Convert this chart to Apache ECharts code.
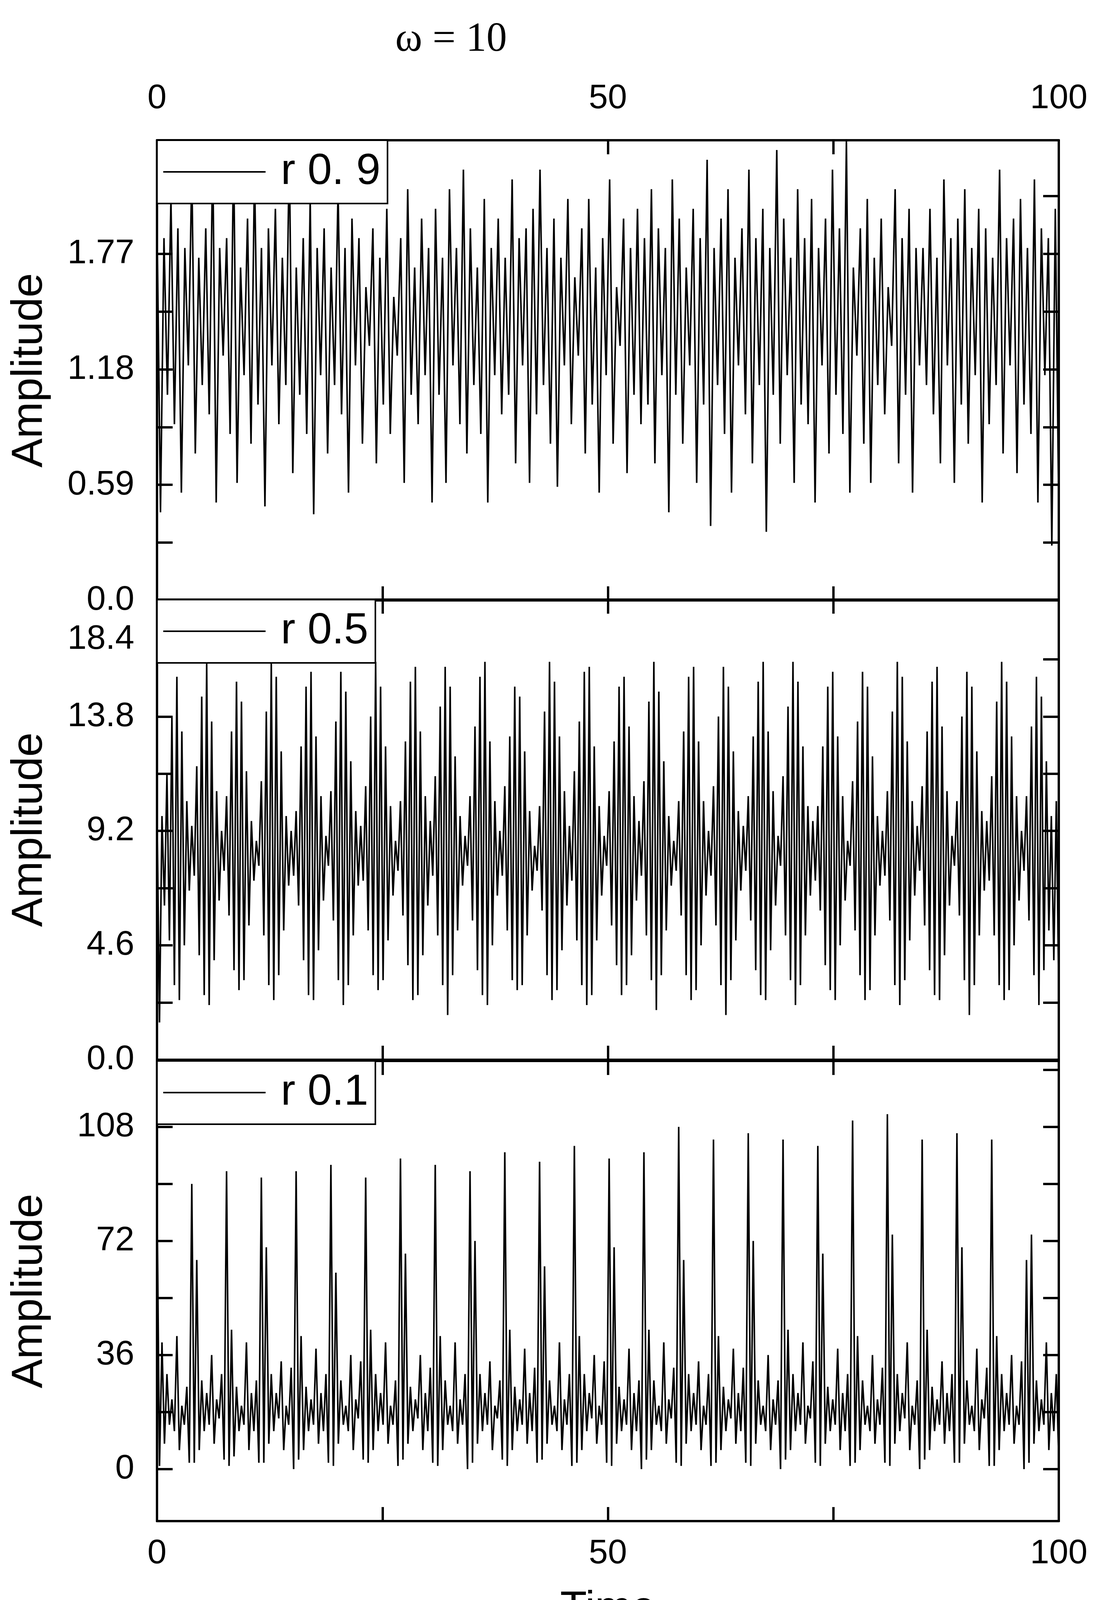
<!DOCTYPE html>
<html>
<head>
<meta charset="utf-8">
<script src="https://cdn.jsdelivr.net/npm/echarts@6/dist/echarts.min.js"></script>
<style>
  html, body { margin: 0; padding: 0; background: #fff; }
  #box { width: 2837px; height: 4386px; }
</style>
</head>
<body>
<div id="box"></div>
<script>
// amplitude values, alternating crests and troughs
var amp09 = [
  1.95,0.45,1.85,1.05,2.05,0.9,1.9,0.55,1.8,1.2,2.2,0.75,1.75,1.1,1.9,0.95,2.3,0.5,1.8,1.25,
  1.85,0.85,2.3,0.6,1.7,1.15,1.95,0.8,2.2,1.0,1.8,0.48,1.9,1.2,2.0,0.9,1.75,1.1,2.3,0.65,
  1.7,1.05,1.85,0.85,2.05,0.44,1.8,1.15,1.9,0.75,1.7,1.1,2.1,0.95,1.8,0.55,1.95,1.2,1.85,0.8,
  1.6,1.3,1.9,0.7,1.75,1.0,2.0,0.85,1.55,1.25,1.85,0.6,2.1,1.05,1.7,0.9,1.95,1.15,1.8,0.5,
  2.0,1.05,1.75,0.6,2.1,1.2,1.8,0.9,2.2,0.75,1.9,1.1,1.7,0.85,2.05,0.5,1.8,1.15,1.95,0.95,
  1.75,1.05,2.15,0.7,1.85,1.2,1.9,0.6,2.0,0.95,2.2,1.1,1.8,0.8,1.95,0.58,1.75,1.2,2.05,0.9,
  1.65,1.25,1.9,0.75,2.05,1.0,1.7,0.55,1.85,1.15,2.15,0.8,1.6,1.3,1.95,0.65,1.8,1.05,2.0,0.9,
  1.85,1.0,2.1,0.7,1.9,1.15,1.8,0.45,2.15,1.05,1.95,0.8,1.7,1.2,2.0,0.6,1.85,1.0,2.25,0.38,
  1.8,1.1,1.95,0.85,2.1,0.55,1.75,1.2,1.9,0.95,2.2,0.7,1.85,1.1,2.0,0.35,1.8,1.05,2.3,0.8,
  1.95,1.15,1.75,0.6,2.1,1.0,1.85,0.9,2.05,0.5,1.8,1.2,1.95,0.75,2.2,1.05,1.9,0.85,2.35,0.55,
  1.7,1.25,1.9,0.8,2.05,0.6,1.75,1.1,1.95,0.95,1.6,1.3,2.1,0.7,1.85,1.05,2.0,0.55,1.8,1.2,
  1.8,1.1,2.0,0.95,1.75,0.7,2.15,1.2,1.85,0.6,1.95,1.0,2.1,0.8,1.8,1.15,2.0,0.5,1.9,0.9,
  1.75,1.1,2.2,0.75,1.85,1.2,1.95,0.65,2.05,1.0,1.8,0.85,2.15,0.5,1.9,1.15,1.85,0.28,2.0,0.45
];

var amp05 = [
  10.2,1.5,9.8,6.2,11.5,4.8,13.8,3.0,15.4,2.4,13.2,4.6,10.4,6.8,
  9.4,7.4,11.8,4.2,14.6,2.6,16.0,2.2,13.6,4.0,10.8,6.4,9.2,7.6,
  10.6,5.8,13.2,3.6,15.2,2.8,14.4,3.2,11.6,5.4,9.6,7.2,8.8,7.8,
  11.2,5.0,14.0,3.0,16.0,2.4,15.4,3.4,12.4,5.2,9.8,7.0,9.2,7.4,
  10.0,6.2,12.6,4.0,15.0,2.6,15.6,2.4,13.0,4.4,10.6,6.4,9.0,7.8,
  10.8,5.6,13.6,3.2,15.6,2.2,14.8,3.0,12.0,5.0,10.0,7.0,9.4,7.2,
  11.0,5.2,13.8,3.4,16.0,2.8,15.0,3.2,12.6,4.8,10.2,6.6,8.8,7.6,
  10.4,5.8,12.8,3.8,15.2,2.4,15.8,2.6,13.2,4.2,10.6,6.2,9.6,7.4,
  11.4,5.0,14.2,3.0,15.8,1.8,15.0,3.4,12.2,5.2,9.8,7.0,9.0,7.8,
  10.6,5.6,13.4,3.6,15.4,2.6,16.0,2.2,12.8,4.6,10.4,6.6,9.2,7.4,
  11.0,5.2,13.0,3.2,15.0,2.8,14.6,3.0,12.4,5.0,10.0,6.8,8.6,7.6,
  10.2,6.0,14.0,3.4,16.0,2.4,15.2,2.8,13.0,4.4,10.8,6.2,9.4,7.2,
  11.6,4.8,13.6,3.0,15.6,2.2,15.8,2.6,12.6,4.8,10.2,6.6,9.0,7.8,
  10.8,5.4,12.8,3.8,15.0,2.6,15.4,3.0,13.4,4.2,10.6,6.4,9.6,7.4,
  11.2,5.0,14.4,3.2,16.0,2.0,14.8,3.4,12.0,5.2,9.8,7.0,8.8,7.6,
  10.4,5.8,13.2,3.4,15.4,2.4,15.8,2.8,12.8,4.6,10.4,6.6,9.2,7.4,
  11.0,5.4,13.8,3.0,15.8,1.8,15.0,3.2,12.4,4.8,10.0,6.8,9.4,7.6,
  10.6,5.6,13.0,3.6,15.2,2.6,16.0,2.4,13.2,4.4,10.8,6.2,9.0,7.8,
  11.4,5.0,14.2,3.2,16.0,2.2,15.2,3.0,12.6,5.0,10.2,6.6,9.6,7.2,
  10.2,6.0,12.6,3.8,15.0,2.8,15.6,2.4,13.0,4.6,10.6,6.4,8.8,7.8,
  11.2,5.2,13.6,3.4,15.6,2.4,15.0,2.8,12.2,5.0,9.8,7.0,9.2,7.4,
  10.8,5.6,14.0,3.0,16.0,2.2,15.4,3.2,12.8,4.8,10.4,6.6,9.4,7.6,
  11.0,5.4,13.2,3.6,15.2,2.6,15.8,2.4,13.4,4.2,10.8,6.2,9.0,7.8,
  10.4,5.8,13.8,3.2,15.6,1.8,15.0,3.0,12.4,5.0,10.0,6.8,9.6,7.2,
  11.4,5.0,14.4,3.0,16.0,2.4,15.2,2.8,13.0,4.6,10.6,6.4,9.2,7.6,
  10.6,5.6,13.4,3.4,15.4,2.2,14.6,3.6,12.0,5.2,9.8,4.0,10.4,2.6
];

var amp01 = [
  88,1,40,8,30,14,22,12,42,6,20,14,26,2,
  90,2,66,6,28,12,24,14,36,8,22,16,30,3,
  94,1,44,4,26,12,20,14,40,6,24,12,28,2,
  92,2,70,8,30,12,24,16,34,6,20,14,32,0,
  94,3,42,6,26,12,22,14,38,8,24,12,30,2,
  96,1,62,8,28,14,20,12,36,6,22,16,34,3,
  92,2,44,6,30,12,24,14,40,8,20,14,28,1,
  98,3,68,8,26,12,22,16,36,6,24,12,32,2,
  96,1,42,6,28,14,20,12,40,8,22,14,30,0,
  94,2,72,8,30,12,24,14,34,6,20,16,28,3,
  100,1,44,6,26,12,22,14,38,8,24,12,32,2,
  97,3,64,8,28,14,20,12,40,6,22,14,30,1,
  102,2,42,6,30,12,24,16,36,8,20,14,34,2,
  98,1,70,8,26,12,22,14,38,6,24,12,28,0,
  100,3,44,6,28,14,20,12,40,8,22,16,32,2,
  108,1,66,8,30,12,24,14,34,6,20,14,30,1,
  104,2,42,6,26,12,22,16,38,8,24,12,32,2,
  106,1,72,8,28,14,20,12,36,6,22,14,28,0,
  104,3,44,6,30,12,24,14,40,8,20,16,34,2,
  102,1,68,8,26,12,22,14,38,6,24,12,30,1,
  110,2,42,6,28,14,20,12,36,8,22,14,32,2,
  112,1,74,8,30,12,24,16,40,6,20,14,28,0,
  104,3,44,6,26,12,22,14,34,8,24,12,30,2,
  106,2,70,8,28,14,20,12,38,6,22,16,32,1,
  104,1,42,6,30,12,24,14,36,8,20,14,34,0,
  66,2,74,8,28,12,22,14,40,6,24,12,30,3
];

var timeTicks = [0, 25, 50, 75, 100];
var timeLabels = [0, 50, 100];
var ticks09 = [0, 0.295, 0.59, 0.885, 1.18, 1.475, 1.77, 2.065];
var labels09 = [0, 0.59, 1.18, 1.77];
var ticks05 = [0, 2.3, 4.6, 6.9, 9.2, 11.5, 13.8, 16.1];
var labels05 = [0, 4.6, 9.2, 13.8];
var ticks01 = [0, 18, 36, 54, 72, 90, 108, 126];
var labels01 = [0, 36, 72, 108];

function toXY(arr) {
    var out = [];
    for (var i = 0; i < arr.length; i++) {
        out.push([i * 100 / (arr.length - 1), arr[i]]);
    }
    return out;
}

var FONT = 'Liberation Sans';
var panels = [
    {top: 359, min: 0, max: 2.35, ticks: ticks09, labels: labels09, name: 'r 0. 9', data: amp09,
     fmt: function (v) { return v === 0 ? '0.0' : String(v); }},
    {top: 1535, min: 0, max: 18.5, ticks: ticks05, labels: labels05, name: 'r 0.5', data: amp05,
     fmt: function (v) { return v === 0 ? '0.0' : String(v); }},
    {top: 2716, min: -16.4, max: 128.8, ticks: ticks01, labels: labels01, name: 'r 0.1', data: amp01,
     fmt: function (v) { return String(v); }}
];

var grid = [], xAxis = [], yAxis = [], series = [], legend = [];
var line = {show: true, onZero: false, lineStyle: {color: '#000', width: 6}};

panels.forEach(function (p, k) {
    grid.push({left: 402, width: 2309, top: p.top, height: 1178});
    ['bottom', 'top'].forEach(function (pos) {
        var showLab = (k === 0 && pos === 'top') || (k === 2 && pos === 'bottom');
        xAxis.push({
            type: 'value', gridIndex: k, position: pos, min: 0, max: 100,
            axisLine: line,
            axisTick: {show: true, inside: true, length: 36, customValues: timeTicks, lineStyle: {color: '#000', width: 6}},
            axisLabel: {show: showLab, customValues: timeLabels, fontFamily: FONT, fontSize: 88, color: '#000',
                        margin: pos === 'top' ? 62 : 40},
            splitLine: {show: false},
            name: (k === 2 && pos === 'bottom') ? 'Time' : '',
            nameLocation: 'middle', nameGap: 170,
            nameTextStyle: {fontFamily: FONT, fontSize: 112, color: '#000'}
        });
    });
    ['left', 'right'].forEach(function (pos) {
        yAxis.push({
            type: 'value', gridIndex: k, position: pos, min: p.min, max: p.max,
            axisLine: line,
            axisTick: {show: true, inside: true, length: 40, customValues: p.ticks, lineStyle: {color: '#000', width: 6}},
            axisLabel: {show: pos === 'left', customValues: p.labels, formatter: p.fmt,
                        fontFamily: FONT, fontSize: 88, color: '#000', margin: 58},
            splitLine: {show: false},
            name: pos === 'left' ? 'Amplitude' : '',
            nameLocation: 'middle', nameGap: 270,
            nameTextStyle: {fontFamily: FONT, fontSize: 112, color: '#000'}
        });
    });
    series.push({
        name: p.name, type: 'line', xAxisIndex: k * 2, yAxisIndex: k * 2,
        data: toXY(p.data), symbol: 'none', sampling: false,
        lineStyle: {color: '#000', width: 4}, itemStyle: {color: '#000'}
    });
    legend.push({
        data: [{name: p.name, icon: 'rect'}], left: 402, top: p.top, orient: 'vertical',
        backgroundColor: '#fff', borderColor: '#000', borderWidth: 4, borderRadius: 0,
        padding: [17, 18, 17, 16], itemWidth: 262, itemHeight: 4,
        itemStyle: {color: '#000', borderWidth: 0},
        textStyle: {fontFamily: FONT, fontSize: 112, color: '#000', lineHeight: 128, padding: [0, 0, 0, 34]}
    });
});

// 18.4 label of the middle panel sits a little below the frame top
yAxis.push({
    type: 'value', gridIndex: 1, position: 'left', min: 0, max: 18.5,
    axisLine: {show: false}, axisTick: {show: false}, splitLine: {show: false},
    axisLabel: {customValues: [16.9], formatter: function () { return '18.4'; },
                fontFamily: FONT, fontSize: 88, color: '#000', margin: 58}
});

var myChart = echarts.init(document.getElementById('box'));
myChart.setOption({
    animation: false,
    backgroundColor: '#fff',
    title: [
        {text: 'ω = 10', left: 1150, top: 45, textAlign: 'center',
         textStyle: {fontFamily: 'Liberation Serif', fontSize: 105, fontWeight: 'normal', color: '#000'}},
        {text: '(c)', left: 1536, top: 4190, textAlign: 'center',
         textStyle: {fontFamily: 'Liberation Sans Narrow, Liberation Sans', fontSize: 72, fontWeight: 'normal', color: '#000'}}
    ],
    legend: legend,
    grid: grid,
    xAxis: xAxis,
    yAxis: yAxis,
    series: series
});
</script>
</body>
</html>
